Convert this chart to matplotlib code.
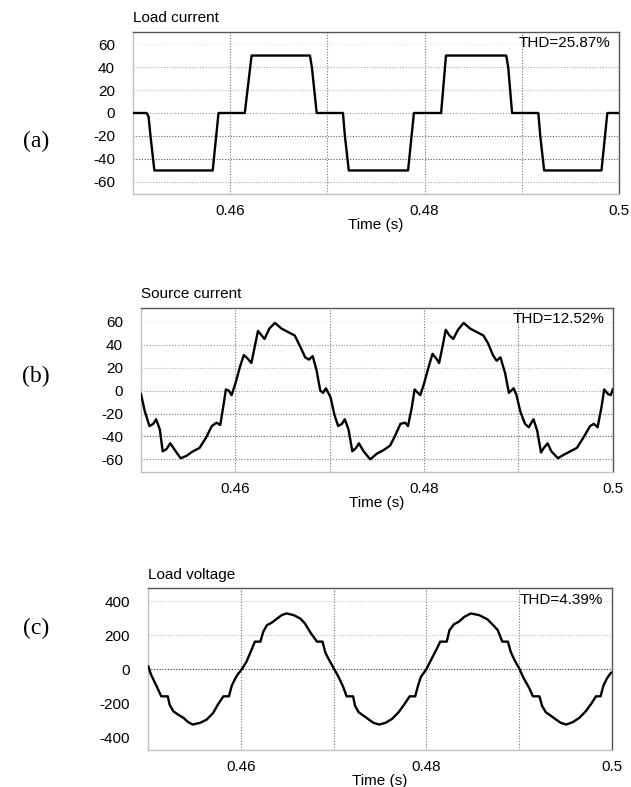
import matplotlib
matplotlib.use('Agg')
import matplotlib.pyplot as plt
import numpy as np

plt.rcParams['font.family'] = ['Liberation Sans', 'DejaVu Sans']
plt.rcParams['axes.unicode_minus'] = False

# ---- data ----
# (a) load current, breakpoints (s, A)
t_load = [0.4500, 0.4514, 0.4516, 0.4518, 0.4522, 0.4582, 0.4588, 0.4615, 0.4622,
          0.4682, 0.4684, 0.4689, 0.4716, 0.4718, 0.4722, 0.4783, 0.4789, 0.4817,
          0.4822, 0.4884, 0.4886, 0.4890, 0.4917, 0.4919, 0.4923, 0.4982, 0.4988, 0.5000]
i_load = [0, 0, -3, -20, -50, -50, 0, 0, 50,
          50, 40, 0, 0, -20, -50, -50, 0, 0,
          50, 50, 40, 0, 0, -20, -50, -50, 0, 0]

# (b) source current
t_src = [0.4500, 0.4504, 0.4509, 0.4513, 0.4516, 0.4520, 0.4523, 0.4527, 0.4531, 0.4536,
         0.4542, 0.4548, 0.4555, 0.4562, 0.4569, 0.4575, 0.4580, 0.4584, 0.4587, 0.4590,
         0.4593, 0.4596, 0.4600, 0.4605, 0.4609, 0.4613, 0.4617, 0.4621, 0.4624, 0.4628,
         0.4631, 0.4636, 0.4642, 0.4649, 0.4656, 0.4663, 0.4669, 0.4674, 0.4678, 0.4682,
         0.4686, 0.4690, 0.4693, 0.4696, 0.4701, 0.4705, 0.4709, 0.4713, 0.4716, 0.4720,
         0.4724, 0.4728, 0.4731, 0.4736, 0.4743, 0.4750, 0.4757, 0.4764, 0.4769, 0.4775,
         0.4780, 0.4783, 0.4787, 0.4790, 0.4796, 0.4800, 0.4805, 0.4809, 0.4813, 0.4816,
         0.4820, 0.4823, 0.4827, 0.4831, 0.4836, 0.4842, 0.4849, 0.4856, 0.4863, 0.4868,
         0.4873, 0.4877, 0.4881, 0.4886, 0.4890, 0.4895, 0.4898, 0.4902, 0.4907, 0.4911,
         0.4916, 0.4920, 0.4924, 0.4927, 0.4931, 0.4935, 0.4942, 0.4948, 0.4955, 0.4962,
         0.4969, 0.4976, 0.4980, 0.4984, 0.4988, 0.4991, 0.4995, 0.4998, 0.5000]
i_src = [-3, -18, -31, -29, -25, -34, -53, -51, -46, -52,
         -59, -57, -53, -50, -41, -31, -28, -30, -15, 1,
         0, -4, 6, 21, 31, 28, 24, 40, 52, 48,
         45, 54, 59, 54, 51, 48, 38, 29, 27, 30,
         18, 0, -2, 2, -6, -21, -31, -29, -25, -34,
         -53, -50, -46, -53, -60, -55, -52, -48, -40, -29,
         -28, -31, -15, 1, -4, 6, 21, 32, 28, 24,
         40, 53, 48, 45, 53, 59, 54, 51, 48, 41,
         31, 26, 29, 15, -2, 2, -4, -18, -29, -32,
         -25, -35, -54, -50, -46, -53, -59, -56, -53, -50,
         -41, -31, -29, -32, -15, 1, -3, -4, 1]

# (c) load voltage
t_v = [0.4500, 0.4503, 0.4509, 0.4514, 0.4521, 0.4523, 0.4527, 0.4532, 0.4538, 0.4543,
       0.4548, 0.4556, 0.4563, 0.4570, 0.4575, 0.4581, 0.4587, 0.4590, 0.4594, 0.4597,
       0.4601, 0.4606, 0.4611, 0.4615, 0.4621, 0.4624, 0.4628, 0.4633, 0.4639, 0.4644,
       0.4649, 0.4657, 0.4664, 0.4669, 0.4675, 0.4682, 0.4688, 0.4691, 0.4695, 0.4700,
       0.4705, 0.4710, 0.4714, 0.4721, 0.4723, 0.4727, 0.4732, 0.4738, 0.4743, 0.4749,
       0.4756, 0.4763, 0.4770, 0.4776, 0.4782, 0.4788, 0.4791, 0.4794, 0.4800, 0.4806,
       0.4811, 0.4815, 0.4822, 0.4825, 0.4830, 0.4835, 0.4841, 0.4848, 0.4857, 0.4866,
       0.4873, 0.4877, 0.4882, 0.4888, 0.4891, 0.4895, 0.4900, 0.4905, 0.4911, 0.4915,
       0.4922, 0.4925, 0.4929, 0.4934, 0.4940, 0.4945, 0.4951, 0.4958, 0.4965, 0.4972,
       0.4978, 0.4983, 0.4988, 0.4991, 0.4995, 0.4999, 0.5000]
v_load = [16, -33, -101, -160, -160, -209, -248, -267, -287, -312,
          -326, -316, -297, -258, -209, -160, -160, -98, -53, -27,
          0, 45, 109, 162, 162, 220, 259, 273, 298, 318,
          328, 318, 298, 269, 215, 162, 162, 98, 55, 6,
          -43, -101, -160, -160, -215, -254, -273, -297, -316, -326,
          -316, -293, -254, -209, -160, -160, -98, -47, 0, 64,
          117, 162, 162, 230, 265, 279, 308, 328, 318, 293,
          254, 230, 162, 162, 103, 55, 6, -53, -111, -160,
          -160, -218, -254, -273, -297, -316, -326, -312, -287, -248,
          -203, -160, -160, -98, -53, -23, -20]

titles = ['Load current', 'Source current', 'Load voltage']
thd = ['THD=25.87%', 'THD=12.52%', 'THD=4.39%']
tags = ['(a)', '(b)', '(c)']
yticks = [[60, 40, 20, 0, -20, -40, -60],
          [60, 40, 20, 0, -20, -40, -60],
          [400, 200, 0, -200, -400]]
ylims = [(-70.5, 70.5), (-71, 72), (-476, 476)]
xticks = [0.46, 0.48, 0.5]
xlabels = ['0.46', '0.48', '0.5']
xminor = [0.47, 0.49]

# grid colours per y tick (the screenshot renders them unevenly)
gcols = [['#e2e2e2', '#aaaaaa', '#bbbbbb', '#999999', '#666666', '#555555', '#aaaaaa'],
         ['#e8e8e8', '#999999', '#bbbbbb', '#999999', '#777777', '#555555', '#888888'],
         ['#cccccc', '#bbbbbb', '#333333', 'none', 'none']]

series = [(t_load, i_load), (t_src, i_src), (t_v, v_load)]

W, H = 631, 787
fig = plt.figure(figsize=(W / 100, H / 100), dpi=100)
boxes = [(133, 619, 32, 194), (141, 612.7, 308, 472), (148.3, 611.7, 588.3, 750)]
tag_y = [141, 376, 628]
fs = 11

for k in range(3):
    l, r, tp, b = boxes[k]
    ax = fig.add_axes([l / W, 1 - b / H, (r - l) / W, (b - tp) / H])
    t, y = series[k]
    ax.plot(t, y, color='black', lw=1.7, zorder=3)
    ax.set_xlim(0.45, 0.5)
    ax.set_ylim(*ylims[k])
    ax.set_xticks(xticks)
    ax.set_xticklabels(xlabels)
    ax.set_xticks(xminor, minor=True)
    ax.set_yticks(yticks[k])
    ax.tick_params(axis='both', which='both', length=0, labelsize=fs, colors='black')
    ax.tick_params(axis='y', pad=13)
    ax.tick_params(axis='x', pad=7)
    ax.grid(axis='x', which='both', ls=(0, (1, 1.5)), color='#777777', lw=0.8)
    ax.grid(axis='y', which='major', ls=(0, (1, 1.5)), lw=0.8)
    for gl, c in zip(ax.yaxis.get_gridlines(), gcols[k]):
        gl.set_color(c)
    ax.set_axisbelow(True)
    for s in ['top', 'right']:
        ax.spines[s].set_color('#555555')
        ax.spines[s].set_linewidth(1.0)
    for s in ['left', 'bottom']:
        ax.spines[s].set_color('#c0c0c0')
        ax.spines[s].set_linewidth(1.0)
    ax.set_xlabel('Time (s)', fontsize=fs, labelpad=0)
    ax.set_title(titles[k], loc='left', fontsize=fs, pad=7)
    ax.text(0.982, 0.93, thd[k], transform=ax.transAxes, ha='right', va='center',
            fontsize=fs)
    fig.text(36 / W, 1 - tag_y[k] / H, tags[k], ha='center', va='center',
             fontsize=17, family=['Liberation Serif', 'DejaVu Serif'])

plt.savefig('out.png', dpi=100)
